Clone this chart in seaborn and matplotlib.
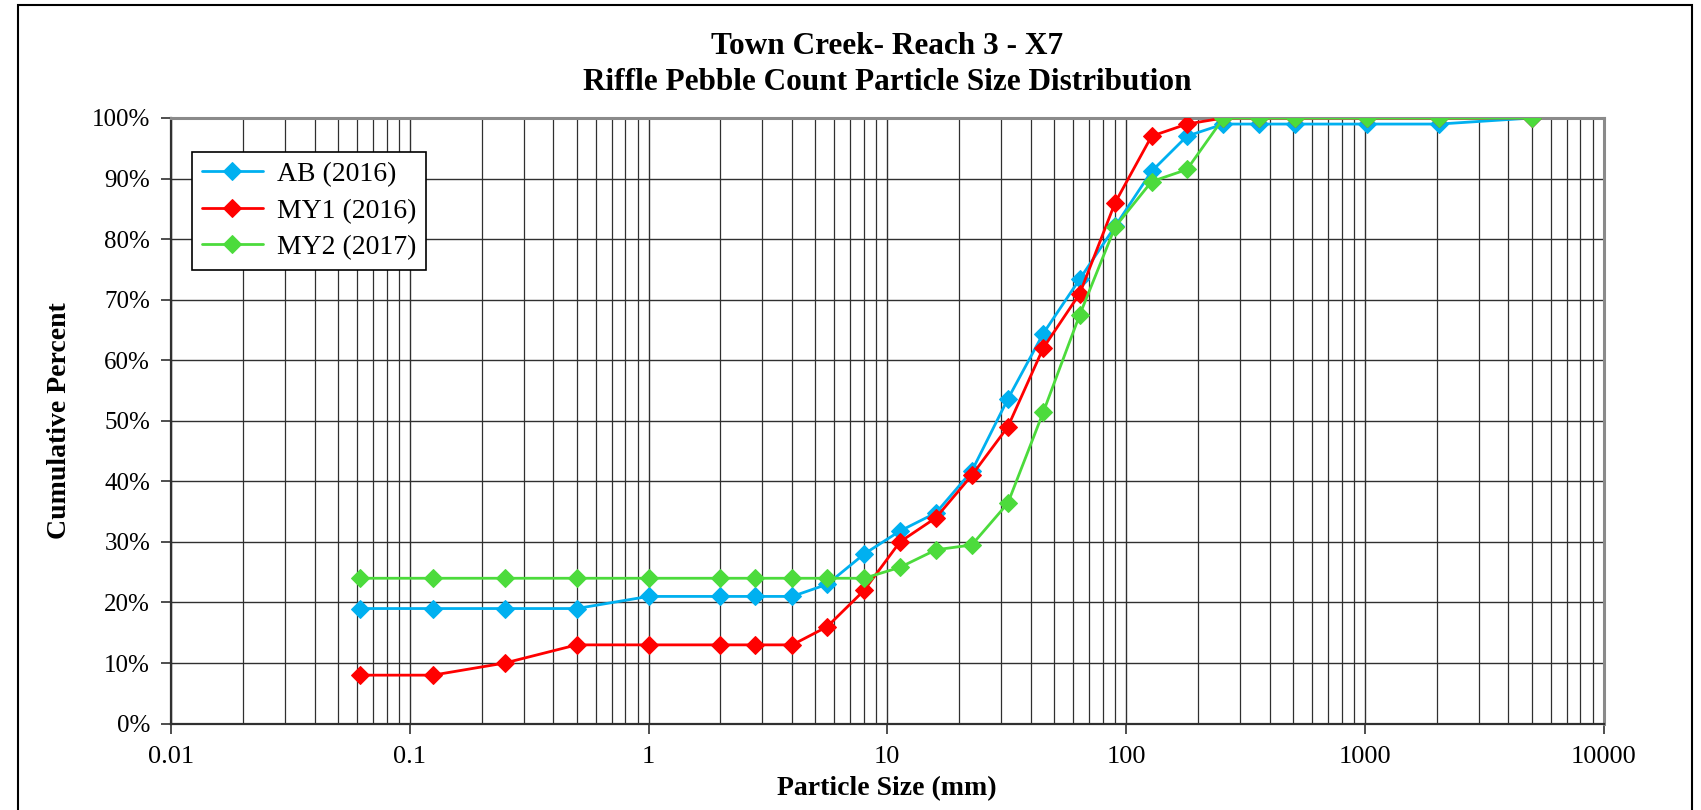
import matplotlib
matplotlib.use("Agg")
import matplotlib.pyplot as plt
import matplotlib.ticker as mticker
from matplotlib.patches import Rectangle
import seaborn as sns
import numpy as np

sizes_mm = [0.062, 0.125, 0.25, 0.5, 1, 2, 2.8, 4, 5.6, 8, 11.3, 16, 22.6, 32, 45, 64,
            90, 128, 180, 256, 362, 512, 1024, 2048, 5000]
ab_2016 = [19, 19, 19, 19, 21, 21, 21, 21, 23, 28, 31.8, 34.8, 41.7, 53.6, 64.4, 73.4,
           82.1, 91.2, 97, 99, 99, 99, 99, 99, 100]
my1_2016 = [8, 8, 10, 13, 13, 13, 13, 13, 16, 22, 30, 34, 41, 49, 62, 71,
            86, 97, 99, 100, 100, 100, 100, 100, 100]
my2_2017 = [24, 24, 24, 24, 24, 24, 24, 24, 24, 24, 25.8, 28.7, 29.5, 36.4, 51.4, 67.5,
            82, 89.5, 91.5, 100, 100, 100, 100, 100, 100]
series_names = ["AB (2016)", "MY1 (2016)", "MY2 (2017)"]
series_colors = ["#00B0F0", "#FF0000", "#4CDB3C"]
title_lines = ["Town Creek- Reach 3 - X7", "Riffle Pebble Count Particle Size Distribution"]
x_ticks = [0.01, 0.1, 1, 10, 100, 1000, 10000]
x_tick_labels = ["0.01", "0.1", "1", "10", "100", "1000", "10000"]
y_ticks = list(range(0, 101, 10))

sns.set_theme(style="white")
plt.rcParams["font.family"] = ["Liberation Serif", "DejaVu Serif"]
plt.rcParams["text.color"] = "black"
plt.rcParams["axes.labelcolor"] = "black"
plt.rcParams["xtick.color"] = "black"
plt.rcParams["ytick.color"] = "black"

W, H = 1701, 810
fig = plt.figure(figsize=(W / 100, H / 100), dpi=100)
ax = fig.add_axes([171 / W, 1 - 723.6 / H, (1603.5 - 171) / W, (723.6 - 118) / H])

for vals, name, col in zip([ab_2016, my1_2016, my2_2017], series_names, series_colors):
    sns.lineplot(x=sizes_mm, y=vals, ax=ax, color=col, marker="D", markersize=9,
                 markeredgecolor=col, linewidth=2.0, label=name, sort=False, zorder=3)

ax.set_xscale("log")
ax.set_xlim(0.01, 10000)
ax.set_ylim(0, 100)
ax.set_xticks(x_ticks)
ax.set_xticklabels(x_tick_labels)
ax.xaxis.set_minor_locator(mticker.LogLocator(base=10, subs=np.arange(2, 10), numticks=100))
ax.xaxis.set_minor_formatter(mticker.NullFormatter())
ax.set_yticks(y_ticks)
ax.yaxis.set_major_formatter(mticker.FuncFormatter(lambda v, p: f"{v:.0f}%"))

ax.grid(True, which="major", axis="both", color="#303030", linewidth=1.0)
ax.grid(True, which="minor", axis="x", color="#303030", linewidth=0.9)
ax.set_axisbelow(True)

ax.tick_params(axis="x", which="major", direction="out", length=7, width=1.2,
               color="#303030", labelsize=19, pad=9, bottom=True, labelcolor="black")
ax.tick_params(axis="x", which="minor", length=0)
ax.tick_params(axis="y", which="major", direction="out", length=7, width=1.2,
               color="#303030", labelsize=18, pad=8, left=True, labelcolor="black")

for side in ["top", "right"]:
    ax.spines[side].set_color("#8a8a8a")
    ax.spines[side].set_linewidth(2.2)
for side in ["left", "bottom"]:
    ax.spines[side].set_color("#303030")
    ax.spines[side].set_linewidth(1.6)

ax.set_xlabel("Particle Size (mm)", fontsize=20, fontweight="bold", labelpad=6,
              color="black")
ax.set_ylabel("Cumulative Percent", fontsize=20, fontweight="bold", labelpad=14,
              color="black")

leg = ax.legend(loc="upper left", bbox_to_anchor=(0.0147, 0.944), fontsize=20,
                frameon=True, fancybox=False, framealpha=1, edgecolor="black",
                borderpad=0.35, labelspacing=0.4, handlelength=2.2, handletextpad=0.5,
                borderaxespad=0)
leg.get_frame().set_linewidth(1.2)
for t in leg.get_texts():
    t.set_color("black")

cx = 0.5 * (171 + 1603.5) / W
fig.text(cx, 1 - 47 / H, title_lines[0], ha="center", va="center",
         fontsize=22.5, fontweight="bold", color="black")
fig.text(cx, 1 - 82 / H, title_lines[1], ha="center", va="center",
         fontsize=22.5, fontweight="bold", color="black")

fig.patches.append(Rectangle((18 / W, -0.01), (1692 - 18) / W, 1 - 5 / H + 0.01,
                             transform=fig.transFigure, fill=False, edgecolor="black",
                             linewidth=1.5))

fig.savefig("out.png", dpi=100)
